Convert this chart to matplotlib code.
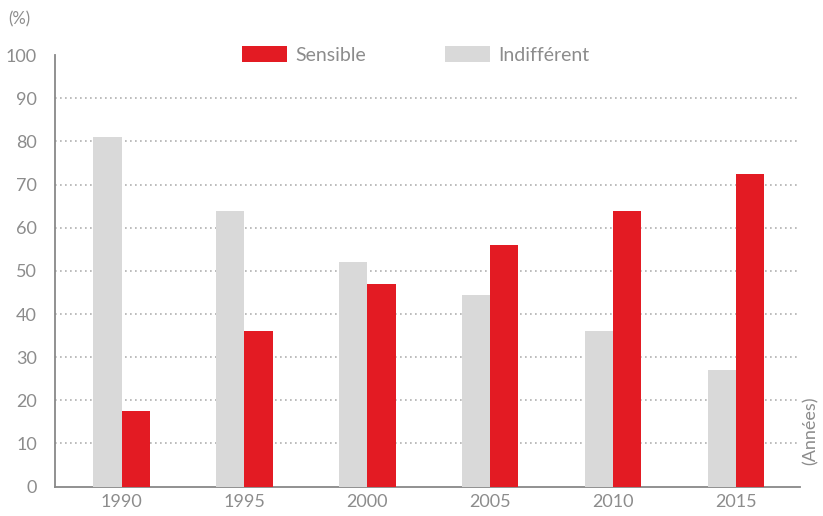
""" Sensible vs indifférent, 1990-2015 """

import numpy as np
import matplotlib.pyplot as plt

annees = ['1990', '1995', '2000', '2005', '2010', '2015']
sensible = [17.5, 36, 47, 56, 64, 72.5]
indifferent = [81, 64, 52, 44.5, 36, 27]

rouge = '#e31b23'
gris = '#d9d9d9'
texte = '#8c8c8c'

plt.rcParams['font.family'] = ['Lato', 'DejaVu Sans']

fig = plt.figure(figsize=(8.23, 5.16), dpi=100)
ax = fig.add_axes([0.067, 0.057, 0.905, 0.836])

x = np.arange(len(annees))
largeur = 0.23

ax.bar(x - largeur / 2, indifferent, largeur, color=gris, label='Indifférent', zorder=3)
ax.bar(x + largeur / 2, sensible, largeur, color=rouge, label='Sensible', zorder=3)

ax.set_xlim(-0.54, 5.52)
ax.set_ylim(0, 100)
ax.set_yticks(range(0, 101, 10))
ax.set_xticks(x)
ax.set_xticklabels(annees)

# grille pointillée
ax.yaxis.grid(True, linestyle=(0, (1, 2)), color='#b0b0b0', linewidth=1.2, zorder=0)
lignes = ax.yaxis.get_gridlines()
lignes[0].set_visible(False)
lignes[-1].set_visible(False)

ax.tick_params(axis='both', length=0, colors=texte, labelsize=13)
ax.tick_params(axis='y', pad=13)
ax.tick_params(axis='x', pad=5)

for s in ['top', 'right']:
    ax.spines[s].set_visible(False)
for s in ['left', 'bottom']:
    ax.spines[s].set_color('#888888')
    ax.spines[s].set_linewidth(1.3)

# légende : Sensible puis Indifférent
h, l = ax.get_legend_handles_labels()
ax.legend(h[::-1], l[::-1], loc='center left', bbox_to_anchor=(0.228, 1.0), ncol=2,
          frameon=False, fontsize=14, labelcolor=texte, handlelength=2.3,
          handleheight=0.9, columnspacing=4.1, handletextpad=0.4)

fig.text(0.010, 0.962, '(%)', color=texte, fontsize=12, va='center')
fig.text(0.985, 0.165, '(Années)', color=texte, fontsize=13, rotation=90,
         ha='center', va='center')

fig.savefig('out.png', dpi=100)
